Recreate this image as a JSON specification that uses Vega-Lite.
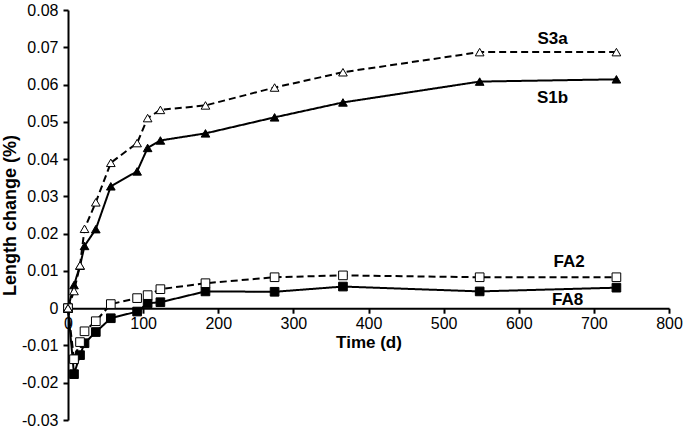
{
  "$schema": "https://vega.github.io/schema/vega-lite/v6.json",
  "autosize": {"type": "none"},
  "padding": {"left": 68, "top": 10, "right": 16, "bottom": 13},
  "width": 601,
  "height": 410,
  "background": "white",
  "config": {
    "view": {"stroke": null},
    "axis": {
      "grid": false,
      "labelFont": "Liberation Sans",
      "labelFontSize": 16,
      "labelColor": "black",
      "labelOverlap": false,
      "labelBound": false,
      "labelFlush": false,
      "titleFont": "Liberation Sans",
      "titleFontSize": 17,
      "titleFontWeight": "bold",
      "titleColor": "black",
      "domainColor": "black",
      "domainWidth": 2,
      "tickColor": "black",
      "tickWidth": 2,
      "tickSize": 5
    }
  },
  "datasets": {
    "series": [
      {"series": "FA8", "day": 0, "value": 0},
      {"series": "FA8", "day": 8, "value": -0.0177},
      {"series": "FA8", "day": 16, "value": -0.0126},
      {"series": "FA8", "day": 22, "value": -0.0094},
      {"series": "FA8", "day": 37, "value": -0.0064},
      {"series": "FA8", "day": 57, "value": -0.0027},
      {"series": "FA8", "day": 92, "value": -0.0009},
      {"series": "FA8", "day": 106, "value": 0.0013},
      {"series": "FA8", "day": 123, "value": 0.0016},
      {"series": "FA8", "day": 183, "value": 0.0045},
      {"series": "FA8", "day": 275, "value": 0.0044},
      {"series": "FA8", "day": 366, "value": 0.0058},
      {"series": "FA8", "day": 548, "value": 0.0045},
      {"series": "FA8", "day": 730, "value": 0.0055},
      {"series": "FA2", "day": 0, "value": 0},
      {"series": "FA2", "day": 8, "value": -0.0137},
      {"series": "FA2", "day": 16, "value": -0.0091},
      {"series": "FA2", "day": 22, "value": -0.0062},
      {"series": "FA2", "day": 37, "value": -0.0035},
      {"series": "FA2", "day": 57, "value": 0.0011},
      {"series": "FA2", "day": 92, "value": 0.0027},
      {"series": "FA2", "day": 106, "value": 0.0035},
      {"series": "FA2", "day": 123, "value": 0.0051},
      {"series": "FA2", "day": 183, "value": 0.0067},
      {"series": "FA2", "day": 275, "value": 0.0083},
      {"series": "FA2", "day": 366, "value": 0.0088},
      {"series": "FA2", "day": 548, "value": 0.0083},
      {"series": "FA2", "day": 730, "value": 0.0083},
      {"series": "S1b", "day": 0, "value": 0},
      {"series": "S1b", "day": 8, "value": 0.0062},
      {"series": "S1b", "day": 16, "value": 0.0114},
      {"series": "S1b", "day": 22, "value": 0.0167},
      {"series": "S1b", "day": 37, "value": 0.0212},
      {"series": "S1b", "day": 57, "value": 0.0327},
      {"series": "S1b", "day": 92, "value": 0.0367},
      {"series": "S1b", "day": 106, "value": 0.043},
      {"series": "S1b", "day": 123, "value": 0.045},
      {"series": "S1b", "day": 183, "value": 0.0469},
      {"series": "S1b", "day": 275, "value": 0.0512},
      {"series": "S1b", "day": 366, "value": 0.0552},
      {"series": "S1b", "day": 548, "value": 0.0608},
      {"series": "S1b", "day": 730, "value": 0.0614},
      {"series": "S3a", "day": 0, "value": 0},
      {"series": "S3a", "day": 8, "value": 0.0046},
      {"series": "S3a", "day": 16, "value": 0.0115},
      {"series": "S3a", "day": 22, "value": 0.0213},
      {"series": "S3a", "day": 37, "value": 0.0284},
      {"series": "S3a", "day": 57, "value": 0.039},
      {"series": "S3a", "day": 92, "value": 0.0443},
      {"series": "S3a", "day": 106, "value": 0.051},
      {"series": "S3a", "day": 123, "value": 0.0532},
      {"series": "S3a", "day": 183, "value": 0.0544},
      {"series": "S3a", "day": 275, "value": 0.0592},
      {"series": "S3a", "day": 366, "value": 0.0633},
      {"series": "S3a", "day": 548, "value": 0.0687},
      {"series": "S3a", "day": 730, "value": 0.0687}
    ],
    "labels": [
      {"label": "S3a", "day": 645, "value": 0.0722},
      {"label": "S1b", "day": 645, "value": 0.0563},
      {"label": "FA2", "day": 667, "value": 0.0123},
      {"label": "FA8", "day": 665, "value": 0.0021}
    ]
  },
  "layer": [
    {
      "data": {"name": "series"},
      "mark": {"type": "line", "color": "black", "strokeWidth": 2},
      "encoding": {
        "x": {
          "field": "day", "type": "quantitative",
          "scale": {"domain": [0, 800], "nice": false},
          "axis": {
            "title": "Time (d)",
            "values": [0, 100, 200, 300, 400, 500, 600, 700, 800],
            "tickCount": 20,
            "offset": -111.8,
            "labelPadding": 2,
            "titlePadding": 3,
            "labelOverlap": false
          }
        },
        "y": {
          "field": "value", "type": "quantitative",
          "scale": {"domain": [-0.03, 0.08], "nice": false, "zero": false},
          "axis": {
            "title": "Length change (%)",
            "titleFontSize": 18,
            "values": [-0.03, -0.02, -0.01, 0, 0.01, 0.02, 0.03, 0.04, 0.05, 0.06, 0.07, 0.08],
            "tickCount": 30,
            "labelExpr": "datum.value == 0 ? '0' : replace(format(datum.value, '.2f'), '\u2212', '-')",
            "labelOverlap": false,
            "labelPadding": 5,
            "titlePadding": 2
          }
        },
        "detail": {"field": "series"},
        "strokeDash": {
          "field": "series", "type": "nominal",
          "scale": {"domain": ["FA8", "FA2", "S1b", "S3a"], "range": [[1, 0], [7, 4], [1, 0], [7, 4]]},
          "legend": null
        }
      }
    },
    {
      "data": {"name": "series"},
      "mark": {"type": "point", "filled": true, "stroke": "black", "strokeWidth": 1, "opacity": 1},
      "encoding": {
        "x": {"field": "day", "type": "quantitative"},
        "y": {"field": "value", "type": "quantitative"},
        "shape": {
          "field": "series", "type": "nominal",
          "scale": {"domain": ["FA8", "FA2", "S1b", "S3a"], "range": ["square", "square", "triangle-up", "triangle-up"]},
          "legend": null
        },
        "fill": {
          "field": "series", "type": "nominal",
          "scale": {"domain": ["FA8", "FA2", "S1b", "S3a"], "range": ["black", "white", "black", "white"]},
          "legend": null
        },
        "size": {
          "field": "series", "type": "nominal",
          "scale": {"domain": ["FA8", "FA2", "S1b", "S3a"], "range": [75, 75, 60, 60]},
          "legend": null
        }
      }
    },
    {
      "data": {"name": "labels"},
      "mark": {"type": "text", "font": "Liberation Sans", "fontSize": 17, "fontWeight": "bold", "color": "black", "align": "center", "baseline": "middle"},
      "encoding": {
        "x": {"field": "day", "type": "quantitative"},
        "y": {"field": "value", "type": "quantitative"},
        "text": {"field": "label"}
      }
    }
  ]
}
